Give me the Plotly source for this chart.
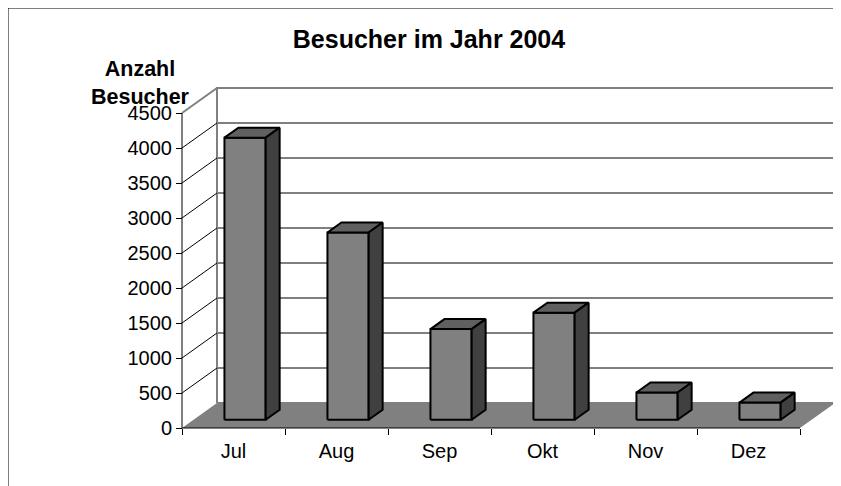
import plotly.graph_objects as go

# ---- data ----
months = ["Jul", "Aug", "Sep", "Okt", "Nov", "Dez"]
visitors = [4030, 2675, 1295, 1530, 390, 245]
y_ticks = [0, 500, 1000, 1500, 2000, 2500, 3000, 3500, 4000, 4500]
title_text = "Besucher im Jahr 2004"
y_title = "Anzahl<br>Besucher"

# ---- layout constants (pixels) ----
W, H = 841, 486
OFF = 8                          # page body margin offset
X0_PX, Y0_PX = 182 - OFF, 428 - OFF  # pixel position of data origin (front)
PX_CAT = 103                     # pixels per category
PX_VAL = 0.07                    # pixels per visitor unit
DEPTH_X_PX, DEPTH_Y_PX = 35, 25  # 3D depth offset in pixels
DX = DEPTH_X_PX / PX_CAT
DY = DEPTH_Y_PX / PX_VAL
D_FRONT, D_BACK = 0.33, 0.73
HALF_W = 0.2
YMAX = y_ticks[-1]
N = len(months)
FONT = "Liberation Sans, Arial, sans-serif"

x_range = [-X0_PX / PX_CAT, (W - X0_PX) / PX_CAT]
y_range = [-(H - Y0_PX) / PX_VAL, Y0_PX / PX_VAL]


def P(x, y, d):
    return x + d * DX, y + d * DY


def poly_xy(pts):
    xs = [p[0] for p in pts] + [pts[0][0]]
    ys = [p[1] for p in pts] + [pts[0][1]]
    return xs, ys


fig = go.Figure()


def add_poly(pts, fill, line_color=None, line_width=0):
    xs, ys = poly_xy(pts)
    fig.add_trace(go.Scatter(
        x=xs, y=ys, mode="lines", fill="toself", fillcolor=fill,
        line=dict(color=line_color or fill, width=line_width),
        hoverinfo="skip", showlegend=False))


def add_line(xs, ys, color, width):
    fig.add_trace(go.Scatter(
        x=xs, y=ys, mode="lines", line=dict(color=color, width=width),
        hoverinfo="skip", showlegend=False))


# floor
add_poly([P(0, 0, 0), P(N, 0, 0), P(N, 0, 1), P(0, 0, 1)], "#808080")

# back wall gridlines
gx, gy = [], []
for v in y_ticks[1:-1]:
    a, b = P(0, v, 1), P(N, v, 1)
    gx += [a[0], b[0], None]
    gy += [a[1], b[1], None]
add_line(gx, gy, "#000000", 1)

# back wall border
bx, by = poly_xy([P(0, 0, 1), P(N, 0, 1), P(N, YMAX, 1), P(0, YMAX, 1)])
add_line(bx, by, "#808080", 2)

# side wall diagonals
sx, sy = [], []
for v in y_ticks[1:-1]:
    a, b = P(0, v, 0), P(0, v, 1)
    sx += [a[0], b[0], None]
    sy += [a[1], b[1], None]
add_line(sx, sy, "#000000", 1)
a, b = P(0, YMAX, 0), P(0, YMAX, 1)
add_line([a[0], b[0]], [a[1], b[1]], "#808080", 2)

# axis lines
add_line([0, 0], [0, YMAX], "#000000", 1)
add_line([0, N], [0, 0], "#000000", 1)

# bars
for i, v in enumerate(visitors):
    l, r = i + 0.5 - HALF_W, i + 0.5 + HALF_W
    # front
    add_poly([P(l, 0, D_FRONT), P(r, 0, D_FRONT), P(r, v, D_FRONT), P(l, v, D_FRONT)],
             "#808080", "#000000", 2)
    # top
    add_poly([P(l, v, D_FRONT), P(r, v, D_FRONT), P(r, v, D_BACK), P(l, v, D_BACK)],
             "#606060", "#000000", 2)
    # side
    add_poly([P(r, 0, D_FRONT), P(r, 0, D_BACK), P(r, v, D_BACK), P(r, v, D_FRONT)],
             "#404040", "#000000", 2)

fig.update_layout(
    width=W, height=H,
    margin=dict(l=0, r=0, t=0, b=0),
    paper_bgcolor="white", plot_bgcolor="white",
    showlegend=False,
    title=dict(text=title_text, x=(429 - OFF) / W, xanchor="center",
               y=1 - (39 - OFF) / H, yanchor="middle",
               font=dict(family=FONT, size=25, color="black", weight="bold")),
    xaxis=dict(range=x_range, domain=[0, 1], anchor="free",
               position=(H - Y0_PX) / H,
               tickvals=[i + 0.5 for i in range(N)], ticktext=months,
               ticks="", showgrid=False, zeroline=False, showline=False,
               tickfont=dict(family=FONT, size=20, color="black"),
               ticklabelstandoff=9,
               minor=dict(tickvals=list(range(N + 1)), ticks="outside",
                          ticklen=6, tickcolor="black", tickwidth=1,
                          showgrid=False)),
    yaxis=dict(range=y_range, domain=[0, 1], anchor="free",
               position=X0_PX / W,
               tickvals=y_ticks, ticks="outside", ticklen=6,
               tickcolor="black", tickwidth=1,
               showgrid=False, zeroline=False, showline=False,
               tickfont=dict(family=FONT, size=20, color="black")),
    annotations=[dict(text="<b>" + y_title + "</b>", x=(140 - OFF) / W,
                      y=1 - (83 - OFF) / H,
                      xref="paper", yref="paper", showarrow=False,
                      xanchor="center", yanchor="middle",
                      font=dict(family=FONT, size=21.5, color="black"))],
    shapes=[dict(type="line", xref="paper", yref="paper",
                 x0=(7 - OFF) / W + 1 / W, x1=(7 - OFF) / W + 1 / W,
                 y0=-0.1, y1=1 - (7 - OFF) / H - 1 / H,
                 line=dict(color="black", width=1)),
            dict(type="line", xref="paper", yref="paper",
                 x0=(7 - OFF) / W + 1 / W, x1=1.1,
                 y0=1 - (7 - OFF) / H - 1 / H, y1=1 - (7 - OFF) / H - 1 / H,
                 line=dict(color="black", width=1))],
)

fig.write_html("out.html")
